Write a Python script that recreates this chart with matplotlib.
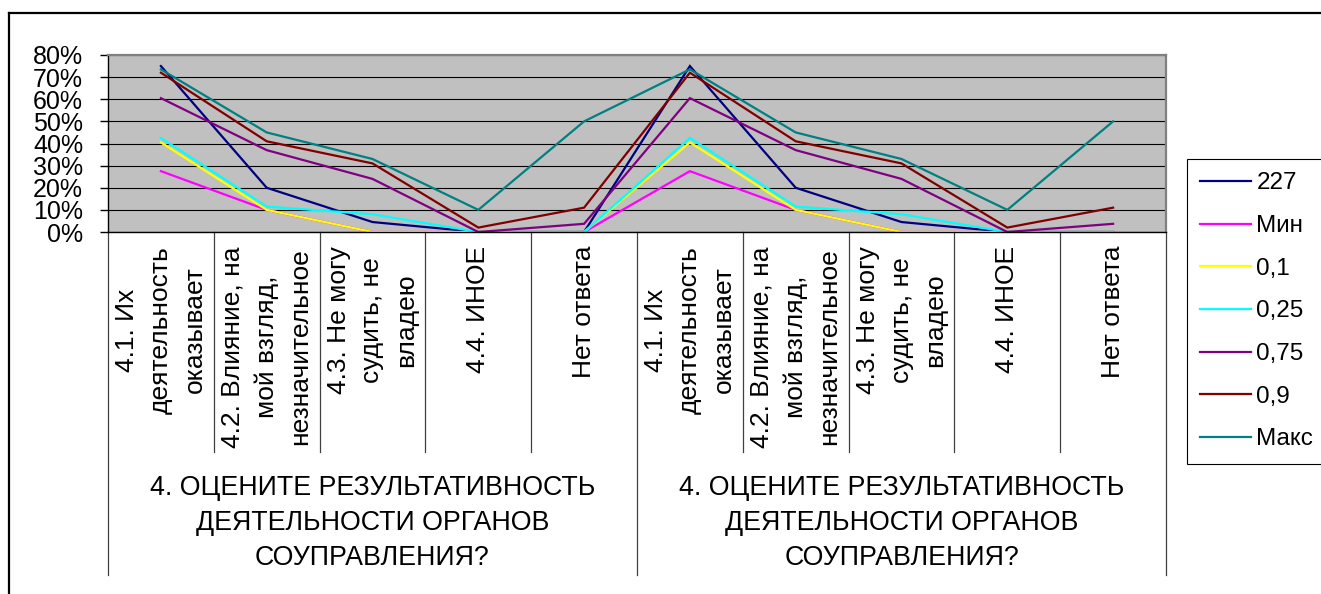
import matplotlib
matplotlib.use('Agg')
import matplotlib.pyplot as plt
import matplotlib.transforms as mtrans
from matplotlib.lines import Line2D

plt.rcParams['font.family'] = ['Liberation Sans', 'DejaVu Sans']

categories = ['4.1. Их\nдеятельность\nоказывает',
              '4.2. Влияние, на\nмой взгляд,\nнезначительное',
              '4.3. Не могу\nсудить, не\nвладею',
              '4.4. ИНОЕ',
              'Нет ответа'] * 2
group_label = '4. ОЦЕНИТЕ РЕЗУЛЬТАТИВНОСТЬ\nДЕЯТЕЛЬНОСТИ ОРГАНОВ\nСОУПРАВЛЕНИЯ?'
groups = [group_label, group_label]

series_names = ['227', 'Мин', '0,1', '0,25', '0,75', '0,9', 'Макс']
s_227 = [75, 20, 4.5, 0, 0, 75, 20, 4.5, 0, 0]
s_min = [27.5, 10, 0, 0, 0, 27.5, 10, 0, 0, 0]
s_p10 = [40.5, 10, 0, 0, 0, 40.5, 10, 0, 0, 0]
s_p25 = [42.5, 11.5, 8, 0, 0, 42.5, 11.5, 8, 0, 0]
s_p75 = [60.5, 37, 24, 0, 3.7, 60.5, 37, 24, 0, 3.7]
s_p90 = [72, 41, 31, 2, 11, 72, 41, 31, 2, 11]
s_max = [73.5, 45, 33, 10, 50, 73.5, 45, 33, 10, 50]
series = [s_227, s_min, s_p10, s_p25, s_p75, s_p90, s_max]
colors = ['#000080', '#FF00FF', '#FFFF00', '#00FFFF', '#800080', '#800000', '#008080']

W, H = 1321, 594
fig = plt.figure(figsize=(W / 100, H / 100), dpi=100)
ax = fig.add_axes([108 / W, 1 - 232 / H, (1166 - 108) / W, (232 - 55) / H])
ax.set_facecolor('#C0C0C0')

x = list(range(len(categories)))
for vals, name, c in zip(series, series_names, colors):
    ax.plot(x, [v / 100 for v in vals], color=c, lw=1.6, label=name,
            solid_joinstyle='miter')

ax.set_xlim(-0.5, len(categories) - 0.5)
ax.set_ylim(0, 0.8)
ax.set_yticks([i / 10 for i in range(9)])
ax.set_yticklabels([f'{i * 10}%' for i in range(9)], fontsize=18)
ax.tick_params(axis='y', direction='out', length=6, width=1, pad=12)
ax.set_xticks([])
ax.grid(axis='y', color='black', lw=0.8)
ax.set_axisbelow(True)
for s in ['top', 'right']:
    ax.spines[s].set_color('#808080')
    ax.spines[s].set_linewidth(1.6)
for s in ['left', 'bottom']:
    ax.spines[s].set_color('black')
    ax.spines[s].set_linewidth(1)

# multi-level category axis
tr = mtrans.blended_transform_factory(ax.transData, fig.transFigure)
y0 = 1 - 232 / H
y_cat = 1 - 452 / H
y_grp = 1 - 575 / H
for i in range(len(categories) + 1):
    xs = i - 0.5
    long = i % 5 == 0
    ax.add_line(Line2D([xs, xs], [y0, y_grp if long else y_cat], transform=tr,
                       color='#404040', lw=0.9, clip_on=False))
for i, lab in enumerate(categories):
    ax.text(i, 1 - 246 / H, lab, transform=tr, rotation=90, ha='center', va='top',
            multialignment='center', fontsize=19, linespacing=1.5)
for g, lab in enumerate(groups):
    ax.text(g * 5 + 2, 1 - 475 / H, lab, transform=tr, ha='center', va='top',
            multialignment='center', fontsize=19.3, linespacing=1.45)

leg = fig.legend(loc='upper left', bbox_to_anchor=(1187 / W, 1 - 159 / H),
                 bbox_transform=fig.transFigure, fontsize=17.5, frameon=True,
                 fancybox=False, edgecolor='black', framealpha=1,
                 handlelength=2.1, handletextpad=0.2, labelspacing=0.85,
                 borderpad=0.55, borderaxespad=0)
leg.get_frame().set_linewidth(0.8)
for h in leg.get_lines():
    h.set_linewidth(1.6)

# outer chart frame (only top and left visible)
fig.add_artist(Line2D([9 / W, 1.01], [1 - 13 / H, 1 - 13 / H], transform=fig.transFigure,
                      color='black', lw=1.6))
fig.add_artist(Line2D([9 / W, 9 / W], [1 - 13 / H, -0.01], transform=fig.transFigure,
                      color='black', lw=1.6))

fig.savefig('out.png', dpi=100)
